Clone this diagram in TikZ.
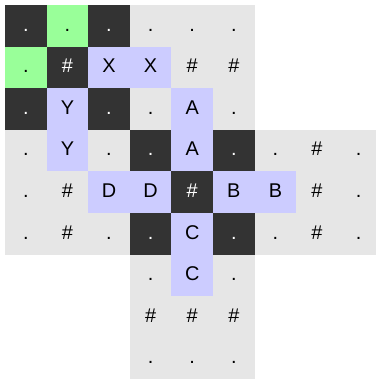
\documentclass[tikz,border=0pt]{standalone}
\usepackage{fontspec}
\setmainfont{Liberation Sans}
\definecolor{celldark}{HTML}{333333}
\definecolor{cellgreen}{HTML}{99FF99}
\definecolor{cellword}{HTML}{CCCCFF}
\definecolor{cellgrey}{HTML}{E6E6E6}
\begin{document}
\begin{tikzpicture}[
    cell/.style={
        rectangle, minimum size=1cm, inner sep=0pt,
        font=\fontsize{13.6}{16}\selectfont,
        text height=0.72em, text depth=0pt
    },
    dark/.style={cell, fill=celldark, text=white},
    seed/.style={cell, fill=cellgreen},
    word/.style={cell, fill=cellword},
    blank/.style={cell, fill=cellgrey}
]
\useasboundingbox (-0.12,0.12) rectangle (8.918,-8.99);

% top left face
\node[dark]  (r1c1) at (0.5,-0.5) {.};
\node[seed]  (r1c2) at (1.5,-0.5) {.};
\node[dark]  (r1c3) at (2.5,-0.5) {.};
\node[seed]  (r2c1) at (0.5,-1.5) {.};
\node[dark]  (r2c2) at (1.5,-1.5) {\#};
\node[word]  (r2c3) at (2.5,-1.5) {X};
\node[dark]  (r3c1) at (0.5,-2.5) {.};
\node[word]  (r3c2) at (1.5,-2.5) {Y};
\node[dark]  (r3c3) at (2.5,-2.5) {.};

% top middle face
\node[blank] (r1c4) at (3.5,-0.5) {.};
\node[blank] (r1c5) at (4.5,-0.5) {.};
\node[blank] (r1c6) at (5.5,-0.5) {.};
\node[word]  (r2c4) at (3.5,-1.5) {X};
\node[blank] (r2c5) at (4.5,-1.5) {\#};
\node[blank] (r2c6) at (5.5,-1.5) {\#};
\node[blank] (r3c4) at (3.5,-2.5) {.};
\node[word]  (r3c5) at (4.5,-2.5) {A};
\node[blank] (r3c6) at (5.5,-2.5) {.};

% left face
\node[blank] (r4c1) at (0.5,-3.5) {.};
\node[word]  (r4c2) at (1.5,-3.5) {Y};
\node[blank] (r4c3) at (2.5,-3.5) {.};
\node[blank] (r5c1) at (0.5,-4.5) {.};
\node[blank] (r5c2) at (1.5,-4.5) {\#};
\node[word]  (r5c3) at (2.5,-4.5) {D};
\node[blank] (r6c1) at (0.5,-5.5) {.};
\node[blank] (r6c2) at (1.5,-5.5) {\#};
\node[blank] (r6c3) at (2.5,-5.5) {.};

% centre face
\node[dark]  (r4c4) at (3.5,-3.5) {.};
\node[word]  (r4c5) at (4.5,-3.5) {A};
\node[dark]  (r4c6) at (5.5,-3.5) {.};
\node[word]  (r5c4) at (3.5,-4.5) {D};
\node[dark]  (r5c5) at (4.5,-4.5) {\#};
\node[word]  (r5c6) at (5.5,-4.5) {B};
\node[dark]  (r6c4) at (3.5,-5.5) {.};
\node[word]  (r6c5) at (4.5,-5.5) {C};
\node[dark]  (r6c6) at (5.5,-5.5) {.};

% right face
\node[blank] (r4c7) at (6.5,-3.5) {.};
\node[blank] (r4c8) at (7.5,-3.5) {\#};
\node[blank] (r4c9) at (8.5,-3.5) {.};
\node[word]  (r5c7) at (6.5,-4.5) {B};
\node[blank] (r5c8) at (7.5,-4.5) {\#};
\node[blank] (r5c9) at (8.5,-4.5) {.};
\node[blank] (r6c7) at (6.5,-5.5) {.};
\node[blank] (r6c8) at (7.5,-5.5) {\#};
\node[blank] (r6c9) at (8.5,-5.5) {.};

% bottom face
\node[blank] (r7c4) at (3.5,-6.5) {.};
\node[word]  (r7c5) at (4.5,-6.5) {C};
\node[blank] (r7c6) at (5.5,-6.5) {.};
\node[blank] (r8c4) at (3.5,-7.5) {\#};
\node[blank] (r8c5) at (4.5,-7.5) {\#};
\node[blank] (r8c6) at (5.5,-7.5) {\#};
\node[blank] (r9c4) at (3.5,-8.5) {.};
\node[blank] (r9c5) at (4.5,-8.5) {.};
\node[blank] (r9c6) at (5.5,-8.5) {.};
\end{tikzpicture}
\end{document}
